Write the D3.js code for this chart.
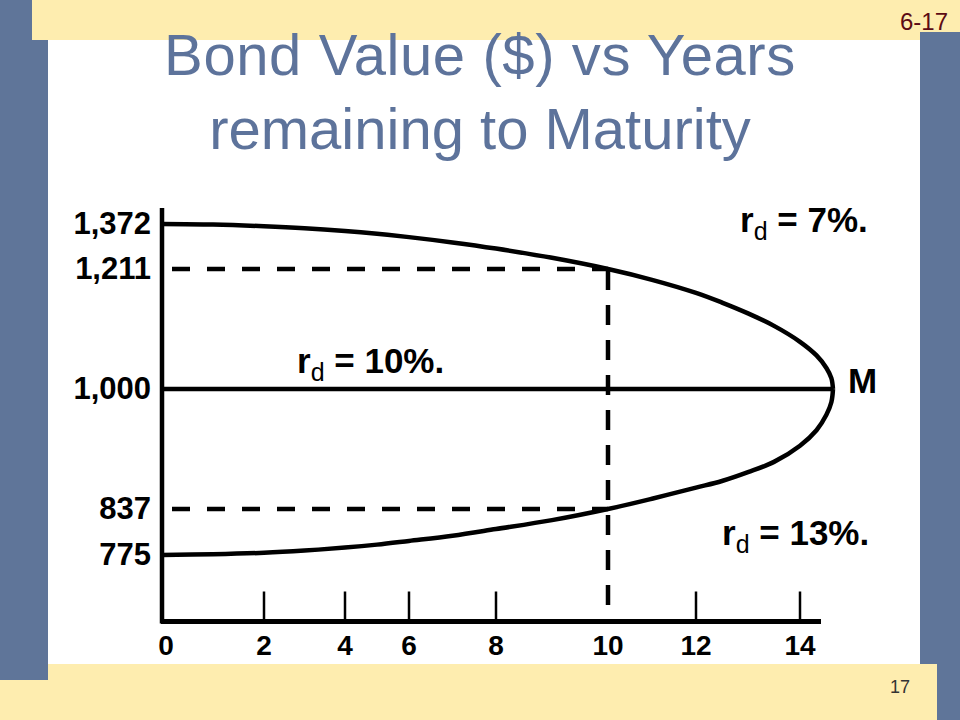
<!DOCTYPE html>
<html>
<head>
<meta charset="utf-8">
<script src="https://cdn.jsdelivr.net/npm/d3@7"></script>
<style>
  html, body { margin: 0; padding: 0; background: #ffffff; }
  svg { display: block; }
  text { font-family: "Liberation Sans", Arial, Helvetica, sans-serif; white-space: pre; }
</style>
</head>
<body>
<svg id="chart" width="960" height="720"></svg>
<script>
// ---------------- DATA ----------------
const titleLines = ["Bond Value ($) vs Years", "remaining to Maturity"];
const slideTag = "6-17";
const pageNumber = "17";

// Years along the x axis and the bond value for each discount rate
const years7  = [0, 1, 2, 3, 4, 5, 6, 7, 8, 9, 10, 11, 12, 12.5, 13, 13.5, 14, 14.5, 14.8, 14.95, 15];
const values7 = [1372, 1370, 1364, 1357, 1347, 1337, 1325, 1306, 1284, 1251, 1211, 1192, 1169, 1152, 1133, 1111, 1083, 1059, 1037, 1019, 1000];

const years10  = [0, 15];
const values10 = [1000, 1000];

const years13  = [0, 1, 2, 3, 4, 5, 6, 7, 8, 9, 10, 11, 12, 12.5, 13, 13.5, 14, 14.5, 14.8, 14.95, 15];
const values13 = [775, 776, 778, 781, 785, 789, 794, 801, 810, 822, 837, 851, 866, 875, 887, 901, 923, 944, 965, 982, 1000];

const rateLabels = ["7%.", "10%.", "13%."];
const maturityLabel = "M";

const xTickValues = [0, 2, 4, 6, 8, 10, 12, 14];
const xTickLabels = ["0", "2", "4", "6", "8", "10", "12", "14"];
const yTickValues = [1372, 1211, 1000, 837, 775];
const yTickLabels = ["1,372", "1,211", "1,000", "837", "775"];

const highlightYear = 10;
const highlightValues = [1211, 837];

// ---------------- LAYOUT ----------------
const svg = d3.select("#chart");
const W = 960, H = 720;
const blue = "#5f7599", yellow = "#feedaf", titleColor = "#5d739b";

// The original diagram is drawn "not to scale": piecewise linear scales
// reproduce the hand-placed tick spacing.
const x = d3.scaleLinear()
  .domain([0, 2, 4, 6, 8, 10, 12, 14, 15])
  .range([162, 264, 345, 409, 496, 608, 696, 800, 833]);
const y = d3.scaleLinear()
  .domain([775, 837, 1000, 1211, 1372])
  .range([555, 509, 389, 269, 224]);

const axisX0 = 162, axisXEnd = 821, axisYBottom = 621.5, axisYTop = 208;

// background
svg.append("rect").attr("width", W).attr("height", H).attr("fill", "#ffffff");
svg.append("rect").attr("x", 0).attr("y", 664).attr("width", 937).attr("height", 56).attr("fill", yellow);
svg.append("rect").attr("x", 0).attr("y", 0).attr("width", 48).attr("height", 680).attr("fill", blue);
svg.append("rect").attr("x", 32).attr("y", 0).attr("width", 928).attr("height", 40).attr("fill", yellow);
svg.append("rect").attr("x", 920).attr("y", 32).attr("width", 40).attr("height", 632).attr("fill", blue);
svg.append("rect").attr("x", 937).attr("y", 664).attr("width", 23).attr("height", 56).attr("fill", blue);

// title
svg.selectAll("text.title").data(titleLines).enter().append("text")
  .attr("class", "title")
  .attr("x", 480).attr("y", (d, i) => 75 + i * 74)
  .attr("text-anchor", "middle")
  .attr("font-size", 58)
  .attr("letter-spacing", (d, i) => i === 0 ? 0.6 : 0)
  .attr("fill", titleColor)
  .text(d => d);

svg.append("text").attr("x", 948).attr("y", 30).attr("text-anchor", "end")
  .attr("font-size", 24).attr("fill", "#5c0a14").text(slideTag);
svg.append("text").attr("x", 900).attr("y", 693).attr("text-anchor", "middle")
  .attr("font-size", 18).attr("fill", "#333333").text(pageNumber);

// ---------------- AXES ----------------
const g = svg.append("g");
g.append("line").attr("x1", axisX0).attr("x2", axisX0).attr("y1", axisYTop).attr("y2", axisYBottom + 2)
  .attr("stroke", "#000").attr("stroke-width", 4.5);
g.append("line").attr("x1", axisX0 - 1).attr("x2", axisXEnd).attr("y1", axisYBottom).attr("y2", axisYBottom)
  .attr("stroke", "#000").attr("stroke-width", 5);

// x ticks (0 is the y axis; the highlighted year is shown by the dashed guide)
g.selectAll("line.xtick").data(xTickValues.filter(v => v !== 0 && v !== highlightYear)).enter()
  .append("line").attr("class", "xtick")
  .attr("x1", d => x(d)).attr("x2", d => x(d))
  .attr("y1", axisYBottom - 30).attr("y2", axisYBottom)
  .attr("stroke", "#000").attr("stroke-width", 2.5);

g.selectAll("text.xlabel").data(xTickValues).enter().append("text")
  .attr("class", "xlabel")
  .attr("x", d => x(d) + (d === 0 ? 4 : 0)).attr("y", 655)
  .attr("text-anchor", "middle")
  .attr("font-size", 28).attr("font-weight", "bold").attr("fill", "#000")
  .text((d, i) => xTickLabels[i]);

g.selectAll("text.ylabel").data(yTickValues).enter().append("text")
  .attr("class", "ylabel")
  .attr("x", 151).attr("y", d => y(d) + 10)
  .attr("text-anchor", "end")
  .attr("font-size", 31).attr("font-weight", "bold").attr("fill", "#000")
  .text((d, i) => yTickLabels[i]);

// ---------------- DASHED GUIDES ----------------
g.selectAll("line.hguide").data(highlightValues).enter().append("line")
  .attr("class", "hguide")
  .attr("x1", x(0)).attr("x2", x(highlightYear))
  .attr("y1", d => y(d)).attr("y2", d => y(d))
  .attr("stroke", "#000").attr("stroke-width", 4.5)
  .attr("stroke-dasharray", "18,17").attr("stroke-dashoffset", 25);
g.append("line")
  .attr("x1", x(highlightYear)).attr("x2", x(highlightYear))
  .attr("y1", y(d3.max(highlightValues)) + 1).attr("y2", axisYBottom - 14)
  .attr("stroke", "#000").attr("stroke-width", 4.5)
  .attr("stroke-dasharray", "20,15");

// ---------------- CURVES ----------------
const line = d3.line().x(d => x(d[0])).y(d => y(d[1])).curve(d3.curveCatmullRom.alpha(0.5));
const series = [
  d3.zip(years7, values7),
  d3.zip(years10, values10),
  d3.zip(years13, values13)
];
g.selectAll("path.curve").data(series).enter().append("path")
  .attr("class", "curve")
  .attr("d", line)
  .attr("fill", "none").attr("stroke", "#000").attr("stroke-width", 4.5)
  .attr("stroke-linejoin", "round").attr("stroke-linecap", "butt");

// ---------------- ANNOTATIONS ----------------
const annPos = [[740, 232], [297, 373], [722, 545]];
rateLabels.forEach((lab, i) => {
  const t = g.append("text").attr("x", annPos[i][0]).attr("y", annPos[i][1])
    .attr("font-size", 35).attr("font-weight", "bold").attr("fill", "#000");
  t.append("tspan").text("r");
  t.append("tspan").attr("font-size", 25).attr("font-weight", "normal").attr("dy", 8).text("d");
  t.append("tspan").attr("dy", -8).text(" = " + lab);
});
g.append("text").attr("x", 848).attr("y", 393)
  .attr("font-size", 35).attr("font-weight", "bold").attr("fill", "#000")
  .text(maturityLabel);
</script>
</body>
</html>
